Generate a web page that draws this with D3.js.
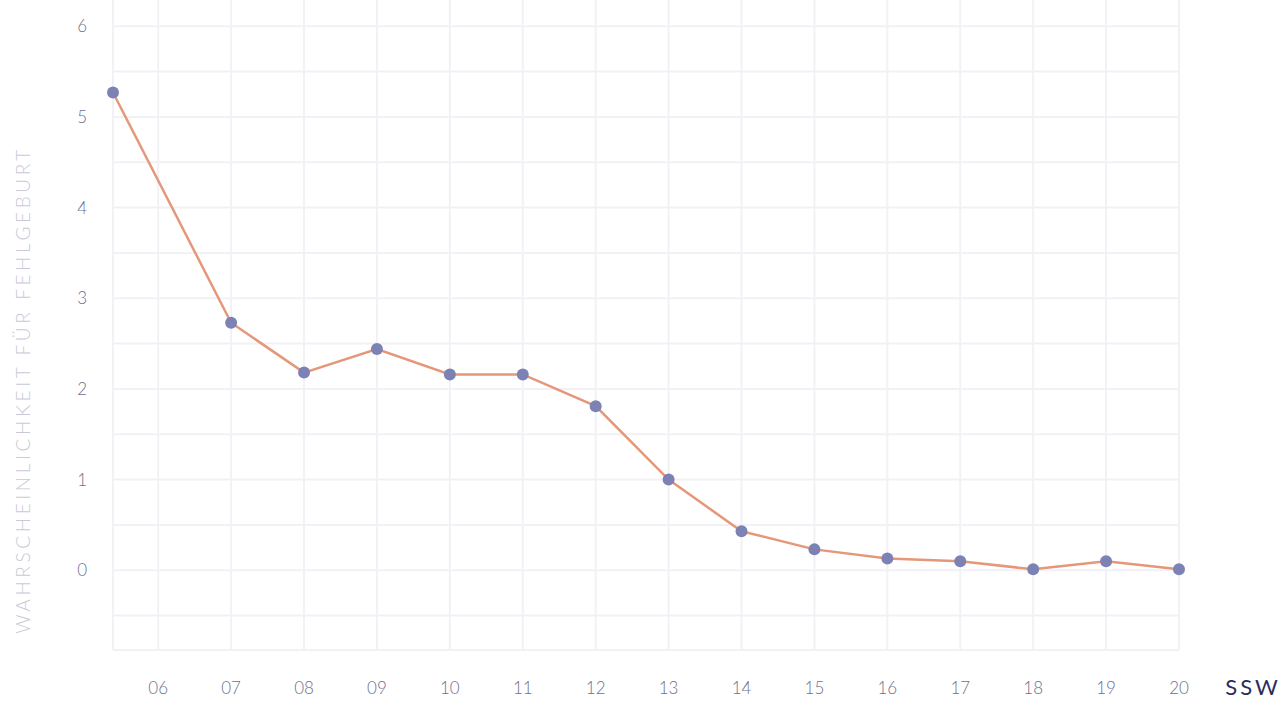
<!DOCTYPE html>
<html>
<head>
<meta charset="utf-8">
<script src="https://cdn.jsdelivr.net/npm/d3@7"></script>
<style>
  body { margin: 0; background: #fff; }
  svg { display: block; font-family: Lato, "Open Sans", sans-serif; font-weight: 300; }
</style>
</head>
<body>
<svg id="chart" width="1280" height="720"></svg>
<script>
// Schwangerschaftswoche (SSW) und Wahrscheinlichkeit
const weeks = [5.38, 7, 8, 9, 10, 11, 12, 13, 14, 15, 16, 17, 18, 19, 20];
const probs = [5.27, 2.73, 2.18, 2.44, 2.16, 2.16, 1.81, 1.0, 0.43, 0.23, 0.13, 0.10, 0.01, 0.10, 0.01];
const xTicks = [6, 7, 8, 9, 10, 11, 12, 13, 14, 15, 16, 17, 18, 19, 20];
const yTicks = [0, 1, 2, 3, 4, 5, 6];

const svg = d3.select("#chart");
const plotLeft = 113, plotRight = 1179, plotTop = 0, plotBottom = 650;

const x = d3.scaleLinear().domain([5.38, 20]).range([plotLeft, plotRight]);
const y = d3.scaleLinear().domain([-0.88, 6.29]).range([plotBottom, plotTop]);

const grid = svg.append("g").attr("stroke", "#f2f2f6").attr("stroke-width", 2);

// horizontal grid, major + half steps
d3.range(-0.5, 6.5, 0.5).forEach(v => {
    grid.append("line")
        .attr("x1", plotLeft).attr("x2", plotRight)
        .attr("y1", y(v)).attr("y2", y(v));
});
grid.append("line").attr("x1", plotLeft).attr("x2", plotRight).attr("y1", plotBottom).attr("y2", plotBottom);

// vertical grid
[x.domain()[0]].concat(xTicks).forEach(v => {
    grid.append("line")
        .attr("x1", x(v)).attr("x2", x(v))
        .attr("y1", plotTop).attr("y2", plotBottom);
});

// y axis labels
svg.append("g").selectAll("text")
    .data(yTicks)
    .enter()
    .append("text")
    .attr("x", 87)
    .attr("y", d => y(d))
    .attr("dy", "0.35em")
    .attr("text-anchor", "end")
    .attr("fill", "#6e6f8e")
    .attr("font-size", 17)
    .text(d => d);

// x axis labels
svg.append("g").selectAll("text")
    .data(xTicks)
    .enter()
    .append("text")
    .attr("x", d => x(d))
    .attr("y", 694)
    .attr("text-anchor", "middle")
    .attr("fill", "#6e6f8e")
    .attr("font-size", 17)
    .text(d => d3.format("02")(d));

// axis titles
svg.append("text")
    .attr("x", 1253)
    .attr("y", 695)
    .attr("text-anchor", "middle")
    .attr("fill", "#2a2d5a")
    .attr("font-size", 22)
    .attr("font-weight", 400)
    .attr("letter-spacing", 3)
    .text("SSW");

svg.append("text")
    .attr("transform", "translate(30, 390) rotate(-90)")
    .attr("text-anchor", "middle")
    .attr("fill", "#c9c9d8")
    .attr("font-size", 19)
    .attr("letter-spacing", 3.6)
    .text("WAHRSCHEINLICHKEIT FÜR FEHLGEBURT");

// line + points
const pts = weeks.map((w, i) => [w, probs[i]]);
const line = d3.line().x(d => x(d[0])).y(d => y(d[1]));

svg.append("path")
    .datum(pts)
    .attr("d", line)
    .attr("fill", "none")
    .attr("stroke", "#e5977a")
    .attr("stroke-width", 2.5);

svg.append("g").selectAll("circle")
    .data(pts)
    .enter()
    .append("circle")
    .attr("cx", d => x(d[0]))
    .attr("cy", d => y(d[1]))
    .attr("r", 6)
    .attr("fill", "#7c82b4");
</script>
</body>
</html>
